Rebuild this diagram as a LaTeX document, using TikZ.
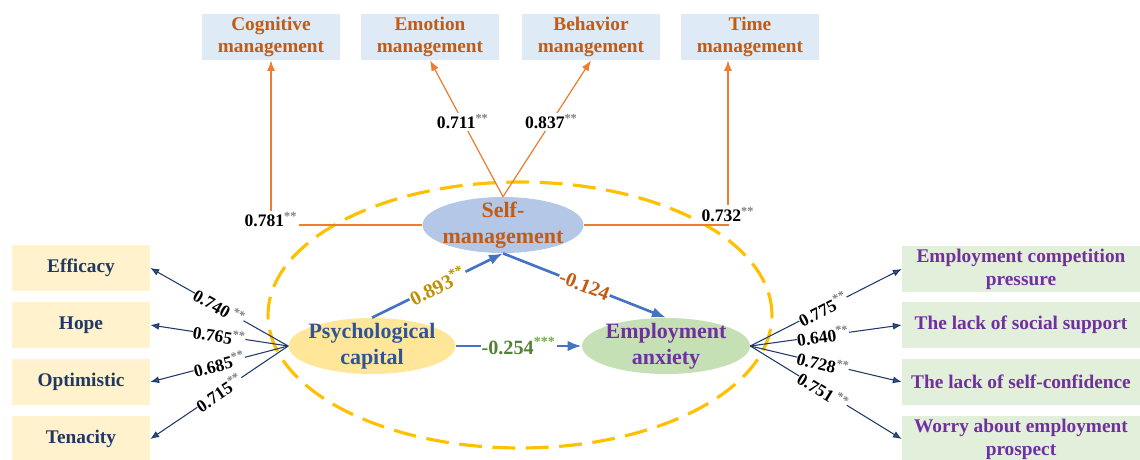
\documentclass[tikz,border=0pt]{standalone}
\usepackage{fontspec}
\setmainfont{Liberation Serif}
\usetikzlibrary{shapes.geometric,arrows.meta}

\definecolor{topfill}{HTML}{DEEBF7}
\definecolor{leftfill}{HTML}{FFF2CC}
\definecolor{rightfill}{HTML}{E2EFDA}
\definecolor{selffill}{HTML}{B4C7E7}
\definecolor{psyfill}{HTML}{FFE699}
\definecolor{empfill}{HTML}{C5E0B4}
\definecolor{rust}{HTML}{C55A11}
\definecolor{navy}{HTML}{1F3864}
\definecolor{plum}{HTML}{7030A0}
\definecolor{royal}{HTML}{2F5597}
\definecolor{pathblue}{HTML}{4472C4}
\definecolor{linkorange}{HTML}{ED7D31}
\definecolor{ringgold}{HTML}{FFC000}
\definecolor{gold}{HTML}{BF9000}
\definecolor{leaf}{HTML}{548235}
\definecolor{leaflight}{HTML}{70AD47}
\definecolor{stargray}{HTML}{7F7F7F}

\newcommand{\stars}[2][stargray]{\textsuperscript{\textcolor{#1}{#2}}}

\begin{document}
\begin{tikzpicture}[x=0.02cm, y=-0.02cm,
    boxfont/.style={font=\fontsize{11}{13}\selectfont\bfseries},
    topbox/.style={boxfont, fill=topfill, text=rust, align=center, minimum width=2.76cm, minimum height=0.92cm, inner sep=0pt},
    leftbox/.style={boxfont, fill=leftfill, text=navy, minimum width=2.76cm, minimum height=0.92cm, inner sep=0pt},
    rightbox/.style={boxfont, fill=rightfill, text=plum, align=center, minimum width=4.76cm, minimum height=0.92cm, inner sep=0pt},
    latent/.style={ellipse, minimum height=1.12cm, inner sep=0pt},
    latentfont/.style={font=\fontsize{12.5}{14.7}\selectfont\bfseries, align=center},
    orangearr/.style={draw=linkorange, line width=0.7pt, -{Latex[length=6pt,width=4.5pt]}},
    bluearr/.style={draw=pathblue, line width=1.5pt, -{Latex[length=8pt,width=6pt]}},
    navyarr/.style={draw=navy, line width=0.6pt, -{Latex[length=5pt,width=4pt,fill=royal]}},
    loadlbl/.style={fill=white, inner sep=0pt, sloped, font=\fontsize{10}{12}\selectfont\bfseries},
    toplbl/.style={fill=white, inner sep=1pt, font=\fontsize{10}{12}\selectfont\bfseries},
    pathlbl/.style={fill=white, inner sep=0.5pt, sloped, font=\fontsize{11.5}{13}\selectfont\bfseries}]

\useasboundingbox (0,0) rectangle (1140,460);

% dashed ring
\draw [ringgold, line width=1.8pt, dash pattern=on 13pt off 6pt] (520,315) ellipse [x radius=5.04cm, y radius=2.66cm];

% top row
\node [topbox] (cog) at (271,37) {Cognitive\\management};
\node [topbox] (emo) at (430,37) {Emotion\\management};
\node [topbox] (beh) at (591,37) {Behavior\\management};
\node [topbox] (tim) at (750,37) {Time\\management};

% left col
\node [leftbox] (eff) at (81,268) {Efficacy};
\node [leftbox] (hop) at (81,325) {Hope};
\node [leftbox] (opt) at (81,382) {Optimistic};
\node [leftbox] (ten) at (81,439) {Tenacity};

% right col
\node [rightbox] (pres) at (1021,269) {Employment competition\\pressure};
\node [rightbox] (supp) at (1021,325) {The lack of social support};
\node [rightbox] (conf) at (1021,382) {The lack of self-confidence};
\node [rightbox] (worr) at (1021,439) {Worry about employment\\prospect};

% latent variables
\node [latent, fill=selffill, minimum width=3.22cm, label={[latentfont, text=rust]center:{Self-\\management}}] (self) at (503,225) {};
\node [latent, fill=psyfill, minimum width=3.34cm, label={[latentfont, text=royal]center:{Psychological\\capital}}] (psy) at (372,346) {};
\node [latent, fill=empfill, minimum width=3.36cm, label={[latentfont, text=plum]center:{Employment\\anxiety}}] (emp) at (666,346) {};

% self-management loadings
\draw [orangearr] (self.west) -| (cog.south) node [toplbl, pos=0.5, yshift=3pt] {0.781\stars{**}};
\draw [orangearr] (self.north) -- (emo.south) node [toplbl, pos=0.55] {0.711\stars{**}};
\draw [orangearr] (self.north) -- (beh.south) node [toplbl, pos=0.55] {0.837\stars{**}};
\draw [orangearr] (self.east) -| ([xshift=-0.44cm]tim.south) node [toplbl, pos=0.5, yshift=6pt] {0.732\stars{**}};

% structural paths
\draw [bluearr] (psy.north) -- (self.south) node [pathlbl, midway, text=gold] {0.893\stars[gold]{**}};
\draw [bluearr] (self.south) -- (emp.north) node [pathlbl, midway, text=rust] {-0.124};
\draw [bluearr] (psy.east) -- (emp.west) node [pathlbl, midway, text=leaf] {-0.254\stars[leaflight]{***}};

% psychological capital loadings
\draw [navyarr] (psy.west) -- (eff.east) node [loadlbl, pos=0.5] {0.740\,\stars{**}};
\draw [navyarr] (psy.west) -- (hop.east) node [loadlbl, pos=0.5] {0.765\stars{**}};
\draw [navyarr] (psy.west) -- (opt.east) node [loadlbl, pos=0.5] {0.685\stars{**}};
\draw [navyarr] (psy.west) -- (ten.east) node [loadlbl, pos=0.5] {0.715\stars{**}};

% employment anxiety loadings
\draw [navyarr] (emp.east) -- (pres.west) node [loadlbl, pos=0.48] {0.775\stars{**}};
\draw [navyarr] (emp.east) -- (supp.west) node [loadlbl, pos=0.48] {0.640\stars{**}};
\draw [navyarr] (emp.east) -- (conf.west) node [loadlbl, pos=0.48] {0.728\stars{**}};
\draw [navyarr] (emp.east) -- (worr.west) node [loadlbl, pos=0.48] {0.751\,\stars{**}};

\end{tikzpicture}
\end{document}
